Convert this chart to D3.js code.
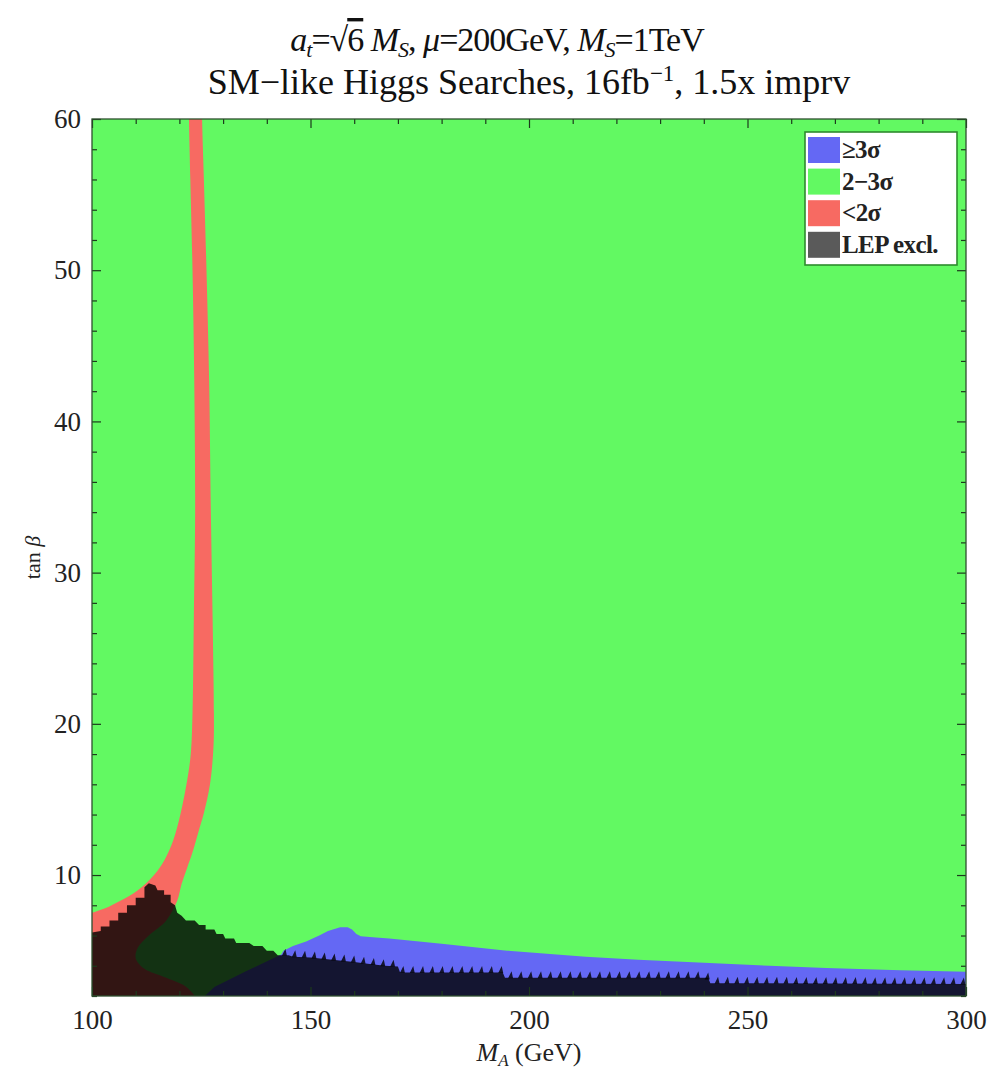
<!DOCTYPE html>
<html><head><meta charset="utf-8">
<script src="https://cdn.jsdelivr.net/npm/d3@7"></script>
<style>body{margin:0;background:#fff}</style>
</head><body>
<svg id="chart" width="1005" height="1069"></svg>
<script>
// ---- data (M_A in GeV, tan beta) ----
const xMajorTicks = [100, 150, 200, 250, 300];
const xMinorTicks = [110,120,130,140,160,170,180,190,210,220,230,240,260,270,280,290];
const yMajorTicks = [10, 20, 30, 40, 50, 60];
const yMinorTicks = [2,4,6,8,12,14,16,18,22,24,26,28,32,34,36,38,42,44,46,48,52,54,56,58];

// <2 sigma region: upper-left edge (top -> bottom)
const redLeftEdge = [[122.2,61],[122.2,60],[122.5,56],[123.0,50],[123.4,42.7],[123.6,34],[123.3,27],[123.0,20.7],
  [122.6,18],[121.8,16.3],[120.3,14.1],[118.6,12.3],[116.6,11.0],[114.2,10.0],[110.5,9.0],
  [106.5,8.3],[103.0,7.8],[100,7.5],[99,7.4]];
// <2 sigma region: lower-right edge (bottom -> top)
const redRightEdge = [[124,1.5],[122,2.5],[117,3.2],[112,3.8],[110,4.5],[110.5,5.2],[113,6],[117,7],[119.5,8.3],[120.5,9.4],
  [121.8,10.5],[123.0,11.5],[124.3,12.8],[125.6,14.1],[127.0,16.0],[127.8,18.5],[127.9,20.7],
  [127.6,27],[127.2,34],[126.8,42.7],[126.2,50],[125.6,56],[125.2,60],[125.2,61]];
// >=3 sigma region: upper edge (left -> right)
const blueTopEdge = [[128,2.6],[135,3.6],[143.3,4.75],[143.8,5.0],[146,5.3],[149,5.6],[152,6.0],[154,6.3],
  [156.8,6.55],[158.5,6.55],[159.5,6.4],[160.5,6.1],[161.5,5.95],[165,5.87],[168,5.8],[180,5.45],
  [195,5.0],[213,4.6],[225,4.4],[240,4.2],[255,4.0],[268,3.85],[285,3.7],[300,3.6],[301,3.6]];
const blueBottom = [[301,1.5],[124,1.5]];
// LEP exclusion: stepped upper edge (left -> right)
const lepTopEdge = [[100,6.2],[102,6.3],[102,6.6],[104,6.6],[104,7.0],[106,7.0],[106,7.5],[108,7.5],
  [108,8.0],[110,8.0],[110,8.5],[112,8.5],[112,9.2],[113,9.45],[114.5,9.3],[115,9.0],[116.5,9.0],
  [116.5,8.7],[118,8.7],[118,8.2],[119,8.0],[119.5,7.5],[120.5,7.3],[121.5,7.0],[123.5,7.0],
  [124.5,6.7],[126,6.7],[126,6.4],[128,6.4],[128.5,6.1],[130,6.1],[130.5,5.8],[132.5,5.8],
  [133,5.5],[136,5.5],[137,5.3],[139,5.3],[140,5.0],[141.5,5.0],[142.5,4.7],[145,4.7],[146,4.6],
  [150,4.55],[155,4.4],[160,4.25],[164,4.1],[167,4.0],[170,3.95],[170.5,3.55],[194,3.55],
  [194.5,3.2],[241,3.2],[241.5,2.85],[300,2.8]];
const lepBottom = [[300,2],[100,2]];

const legendLabels = ["\u22653\u03c3", "2\u22123\u03c3", "<2\u03c3", "LEP excl."];
const legendColors = ["#6468f4", "#62f962", "#f76a62", "#5a5a5a"];

// ---- layout ----
const L = 92, R = 966, T = 119, B = 996;
const svg = d3.select("#chart");
const x = d3.scaleLinear().domain([100, 300]).range([L, R]);
const y = d3.scaleLinear().domain([2, 60]).range([B, T]);
const smooth = d3.line().x(d => x(d[0])).y(d => y(d[1])).curve(d3.curveCatmullRomClosed.alpha(0.5));
const poly = d3.line().x(d => x(d[0])).y(d => y(d[1])).curve(d3.curveLinearClosed);
const FONT = "'Liberation Serif','Times New Roman',serif";

const defs = svg.append("defs");
defs.append("clipPath").attr("id","clip")
  .append("rect").attr("x",L).attr("y",T).attr("width",R-L).attr("height",B-T);
const g = svg.append("g").attr("clip-path","url(#clip)");

g.append("rect").attr("x",L).attr("y",T).attr("width",R-L).attr("height",B-T).attr("fill","#62f962");
g.append("path").attr("d", smooth(redLeftEdge.concat([[99,1.5]], redRightEdge))).attr("fill","#f76a62");
g.append("path").attr("d", poly(blueTopEdge.concat(blueBottom))).attr("fill","#6468f4");
g.append("path").attr("d", poly(lepTopEdge.concat(lepBottom))).attr("fill","#000").attr("fill-opacity",0.8);

// saw-tooth fringe on the LEP boundary (follows lepTopEdge via interpolation)
const edgeX = lepTopEdge.map(d => d[0]);
function edgeAt(mx){
  let i = d3.bisectRight(edgeX, mx);
  if (i <= 0) return lepTopEdge[0][1];
  if (i >= lepTopEdge.length) return lepTopEdge[lepTopEdge.length-1][1];
  const a = lepTopEdge[i-1], b = lepTopEdge[i];
  const t = b[0] === a[0] ? 1 : (mx - a[0]) / (b[0] - a[0]);
  return a[1] + t * (b[1] - a[1]);
}
const toothStep = 2.25; // GeV
let teeth = "";
for (let mx = 143; mx < 300; mx += toothStep) {
  const px = x(mx), py = y(edgeAt(mx + toothStep*0.6)) + 0.5;
  teeth += `M${px+2},${py}L${px+5.5},${py-7}L${px+7},${py}Z`;
}
g.append("path").attr("d", teeth).attr("fill","#000").attr("fill-opacity",0.8);

// ---- axes ----
function styleAxis(sel){
  sel.select(".domain").remove();
  sel.selectAll(".tick line").attr("stroke","#1c3a1c").attr("stroke-width",1.2);
  sel.selectAll("text").attr("font-family",FONT).attr("font-size",27).attr("fill","#222");
}
svg.append("g").attr("transform",`translate(0,${B})`)
  .call(d3.axisBottom(x).tickValues(xMajorTicks).tickSizeInner(-9).tickSizeOuter(0).tickPadding(14).tickFormat(d3.format("d")))
  .call(styleAxis);
svg.append("g").attr("transform",`translate(0,${B})`)
  .call(d3.axisBottom(x).tickValues(xMinorTicks).tickSizeInner(-5).tickSizeOuter(0).tickFormat(""))
  .call(styleAxis);
svg.append("g").attr("transform",`translate(0,${T})`)
  .call(d3.axisTop(x).tickValues(xMajorTicks).tickSizeInner(-9).tickSizeOuter(0).tickFormat(""))
  .call(styleAxis);
svg.append("g").attr("transform",`translate(0,${T})`)
  .call(d3.axisTop(x).tickValues(xMinorTicks).tickSizeInner(-5).tickSizeOuter(0).tickFormat(""))
  .call(styleAxis);
svg.append("g").attr("transform",`translate(${L},0)`)
  .call(d3.axisLeft(y).tickValues(yMajorTicks).tickSizeInner(-9).tickSizeOuter(0).tickPadding(11).tickFormat(d3.format("d")))
  .call(styleAxis);
svg.append("g").attr("transform",`translate(${L},0)`)
  .call(d3.axisLeft(y).tickValues(yMinorTicks).tickSizeInner(-5).tickSizeOuter(0).tickFormat(""))
  .call(styleAxis);
svg.append("g").attr("transform",`translate(${R},0)`)
  .call(d3.axisRight(y).tickValues(yMajorTicks).tickSizeInner(-9).tickSizeOuter(0).tickFormat(""))
  .call(styleAxis);
svg.append("g").attr("transform",`translate(${R},0)`)
  .call(d3.axisRight(y).tickValues(yMinorTicks).tickSizeInner(-5).tickSizeOuter(0).tickFormat(""))
  .call(styleAxis);

svg.append("rect").attr("x",L).attr("y",T).attr("width",R-L).attr("height",B-T)
  .attr("fill","none").attr("stroke","#2f4f2f").attr("stroke-width",1.3);

// ---- axis titles ----
const xl = svg.append("text").attr("x",(L+R)/2).attr("y",1061).attr("text-anchor","middle")
  .attr("font-family",FONT).attr("font-size",26).attr("fill","#222");
xl.append("tspan").attr("font-style","italic").text("M");
xl.append("tspan").attr("font-style","italic").attr("font-size",17).attr("dy",5).text("A");
xl.append("tspan").attr("dy",-5).text(" (GeV)");

svg.append("text").attr("transform",`translate(40,${(T+B)/2}) rotate(-90)`).attr("text-anchor","middle")
  .attr("font-family",FONT).attr("font-size",22).attr("fill","#222")
  .html("tan <tspan font-style='italic'>\u03b2</tspan>");

// ---- title ----
const t1 = svg.append("text").attr("x",497).attr("y",51).attr("text-anchor","middle")
  .attr("font-family",FONT).attr("font-size",34).attr("letter-spacing",-1).attr("fill","#111");
t1.append("tspan").attr("font-style","italic").text("a");
t1.append("tspan").attr("font-style","italic").attr("font-size",22).attr("dy",6).text("t");
t1.append("tspan").attr("dy",-6).text("=\u221a");
t1.append("tspan").attr("text-decoration","overline").text("6");
t1.append("tspan").text(" ");
t1.append("tspan").attr("font-style","italic").text("M");
t1.append("tspan").attr("font-style","italic").attr("font-size",22).attr("dy",6).text("S");
t1.append("tspan").attr("dy",-6).text(", ");
t1.append("tspan").attr("font-style","italic").text("\u03bc");
t1.append("tspan").text("=200GeV, ");
t1.append("tspan").attr("font-style","italic").text("M");
t1.append("tspan").attr("font-style","italic").attr("font-size",22).attr("dy",6).text("S");
t1.append("tspan").attr("dy",-6).text("=1TeV");

const t2 = svg.append("text").attr("x",529).attr("y",94).attr("text-anchor","middle")
  .attr("font-family",FONT).attr("font-size",36).attr("fill","#111");
t2.append("tspan").text("SM\u2212like Higgs Searches, 16fb");
t2.append("tspan").attr("font-size",23).attr("dy",-13).text("\u22121");
t2.append("tspan").attr("dy",13).text(", 1.5x imprv");

// ---- legend ----
const lg = svg.append("g");
lg.append("rect").attr("x",805).attr("y",132).attr("width",152).attr("height",133)
  .attr("fill","#fff").attr("stroke","#2e8b2e").attr("stroke-width",1.6);
legendLabels.forEach((lab,i) => {
  const yy = 137 + i*31.6;
  lg.append("rect").attr("x",808).attr("y",yy).attr("width",32).attr("height",26).attr("fill",legendColors[i]);
  lg.append("text").attr("x",842).attr("y",yy+21).attr("font-family",FONT).attr("font-weight","bold")
    .attr("font-size",25).attr("letter-spacing",-0.6).attr("fill","#222").text(lab);
});
</script>
</body></html>
